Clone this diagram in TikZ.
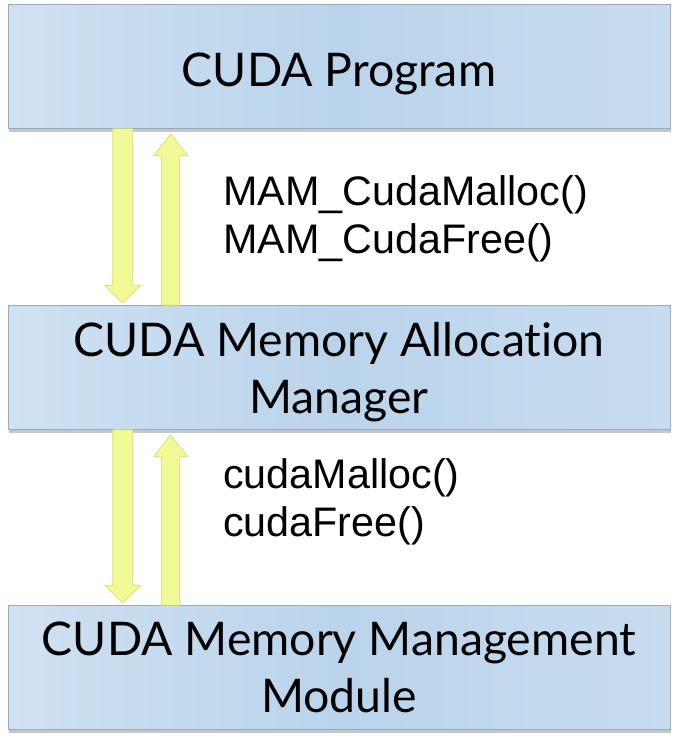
\documentclass[tikz,border=0pt]{standalone}
\usepackage{fontspec}
\setmainfont{Lato}[Ligatures=NoCommon]
\newfontfamily\apifont{Liberation Sans}
\usetikzlibrary{calc,positioning,shadows}
% move the ink of a line down, keep its size
\newcommand{\lowered}[2]{\raisebox{-#1}[\height][\depth]{#2}}

\begin{document}
\begin{tikzpicture}[x = 0.02cm,
                    y = -0.02cm,
                    color = {black}]
% styles
\tikzset{layerbox/.style={draw={rgb,255:red,150;green,172;blue,198},thin,
           left color={rgb,255:red,208;green,225;blue,242},
           right color={rgb,255:red,200;green,220;blue,240},
           middle color={rgb,255:red,186;green,212;blue,235},
           minimum width=13.24cm,minimum height=2.48cm,
           align=center,font=\fontsize{26.4}{32.3}\selectfont,
           drop shadow={opacity=0.45,shadow xshift=0.4pt,shadow yshift=-2.2pt}},
         yarrow/.style={fill={rgb,255:red,242;green,250;blue,150},
           draw={rgb,255:red,212;green,222;blue,112},thin,line join=round},
         callstext/.style={align=left,anchor=west,
           font=\apifont\fontsize{23.5}{27.5}\selectfont}}
\useasboundingbox (0,0) rectangle (680,743);

% layers
\node[layerbox] (prog) at (339,66.5) {\lowered{4pt}{CUDA Program}};
\node[layerbox] (mam) at (339,367.5)
  {\lowered{2.5pt}{CUDA Memory Allocation}\\\lowered{2.5pt}{Manager}};
\node[layerbox] (mmm) at (339,667.5) {CUDA Memory Management\\Module};

% arrows between layers
\foreach \a/\b in {prog/mam,mam/mmm}{
  %down
  \draw[yarrow]
    ($(\a.south west)+(105,0)$) --
    ($(\b.north west)+(105,-20)$) --
    ($(\b.north west)+(97,-20)$) --
    ($(\b.north west)+(115,-2)$) --
    ($(\b.north west)+(133,-20)$) --
    ($(\b.north west)+(125,-20)$) --
    ($(\a.south west)+(125,0)$) -- cycle;
  %up
  \draw[yarrow]
    ($(\b.north west)+(154,0)$) --
    ($(\a.south west)+(154,27)$) --
    ($(\a.south west)+(146,27)$) --
    ($(\a.south west)+(163,5)$) --
    ($(\a.south west)+(180,27)$) --
    ($(\a.south west)+(172,27)$) --
    ($(\b.north west)+(172,0)$) -- cycle;
}

% calls
\node[callstext] (mamcalls) at (217,219) {MAM\_CudaMalloc()\\MAM\_CudaFree()};
\node[callstext] (cudacalls) at (217,502) {cudaMalloc()\\cudaFree()};
\end{tikzpicture}
\end{document}
